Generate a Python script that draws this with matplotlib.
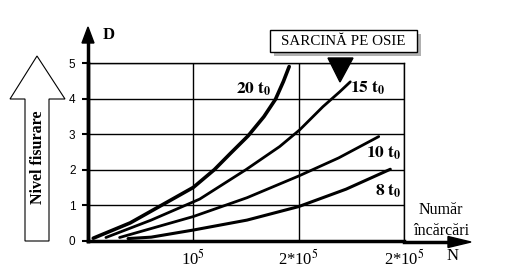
import matplotlib
matplotlib.use('Agg')
import matplotlib.pyplot as plt
from matplotlib.patches import Polygon, Rectangle

plt.rcParams['font.family'] = ['Liberation Serif', 'DejaVu Serif']
plt.rcParams['mathtext.fontset'] = 'stix'

# --- data (N in units of 1e5, D = crack level) --- #
n_20 = [0.05, 0.4, 0.7, 1.0, 1.2, 1.35, 1.52, 1.67, 1.78, 1.855, 1.91]
d_20 = [0.07, 0.5, 1.0, 1.5, 2.0, 2.45, 2.95, 3.49, 3.98, 4.48, 4.9]
n_15 = [0.17, 0.6, 1.06, 1.5, 1.82, 2.01, 2.23, 2.39, 2.49]
d_15 = [0.09, 0.58, 1.17, 2.0, 2.65, 3.12, 3.77, 4.19, 4.47]
n_10 = [0.3, 1.0, 1.51, 2.0, 2.38, 2.76]
d_10 = [0.09, 0.68, 1.21, 1.82, 2.33, 2.93]
n_8 = [0.38, 0.6, 1.0, 1.51, 2.0, 2.45, 2.87]
d_8 = [0.06, 0.1, 0.3, 0.58, 0.96, 1.45, 2.01]

x_ticks = [1, 2, 3]
x_ticklabels = [r'10$^5$', r'2*10$^5$', r'2*10$^5$']
y_ticks = [0, 1, 2, 3, 4, 5]

fig = plt.figure(figsize=(5.24, 2.69), dpi=100)
ax = fig.add_axes([88/524, 1-240.7/269, 316/524, (240.7-63)/269])

ax.plot(n_20, d_20, '-', color='black', lw=2.6, solid_capstyle='round')
ax.plot(n_15, d_15, '-', color='black', lw=2.0, solid_capstyle='round')
ax.plot(n_10, d_10, '-', color='black', lw=2.0, solid_capstyle='round')
ax.plot(n_8, d_8, '-', color='black', lw=2.2, solid_capstyle='round')

# limits / ticks
ax.set_xlim(0, 3)
ax.set_ylim(0, 5)
ax.set_xticks(x_ticks)
ax.set_xticklabels(x_ticklabels, fontsize=12)
ax.set_yticks(y_ticks)
ax.set_yticklabels([str(v) for v in y_ticks], fontsize=8.5,
                   family=['Liberation Sans Narrow', 'Liberation Sans'])
ax.tick_params(axis='x', length=0, pad=6)
ax.tick_params(axis='y', length=4, width=1.5, pad=5)
ax.grid(True, color='black', lw=1.0)
for s in ['top', 'right']:
    ax.spines[s].set_linewidth(1.0)
for s in ['left', 'bottom']:
    ax.spines[s].set_linewidth(2.5)

# curve labels
ax.text(1.57, 4.27, r'$\mathbf{20\ t_0}$', fontsize=12.5, ha='center', va='center')
ax.text(2.49, 4.3, r'$\mathbf{15\ t_0}$', fontsize=12.5, ha='left', va='center')
ax.text(2.64, 2.45, r'$\mathbf{10\ t_0}$', fontsize=12.5, ha='left', va='center')
ax.text(2.72, 1.4, r'$\mathbf{8\ t_0}$', fontsize=12.5, ha='left', va='center')

# --- decorations in pixel coords --- #
ov = fig.add_axes([0, 0, 1, 1], zorder=5)
ov.set_xlim(0, 524)
ov.set_ylim(269, 0)
ov.axis('off')
ov.patch.set_visible(False)

# y axis arrow
ov.plot([88, 88], [241, 40], color='black', lw=2.5)
ov.add_patch(Polygon([(82, 43), (94, 43), (88, 27)], closed=True, color='black'))
ov.text(103, 35, 'D', fontsize=12, fontweight='bold', ha='left', va='center')

# x axis arrow
ov.plot([404, 450], [242, 242], color='black', lw=2.5)
ov.add_patch(Polygon([(448, 236.5), (448, 247.5), (471, 242)], closed=True, color='black'))
ov.text(441, 210, 'Număr', fontsize=11.5, ha='center', va='center')
ov.text(441, 231, 'încărcări', fontsize=11.5, ha='center', va='center')
ov.text(453, 256, 'N', fontsize=12, ha='center', va='center')

# hollow arrow "Nivel fisurare"
ov.add_patch(Polygon([(25, 241), (49, 241), (49, 99), (65, 99), (37, 56),
                      (10, 99), (25, 99)], closed=True, facecolor='white',
                     edgecolor='black', lw=0.8))
ov.text(37.5, 157, 'Nivel fisurare', fontsize=11.5, fontweight='bold',
        rotation=90, ha='center', va='center')

# load box
ov.add_patch(Rectangle((274, 34), 147, 22, facecolor='#b0b0b0', edgecolor='none'))
ov.add_patch(Rectangle((270, 30), 147, 22, facecolor='white', edgecolor='black', lw=1.0))
ov.text(343.5, 41.5, 'SARCINĂ PE OSIE', fontsize=10.8, ha='center', va='center')
ov.add_patch(Polygon([(328, 58), (353, 58), (340, 82)], closed=True, color='black'))

fig.savefig('out.png', dpi=100)
